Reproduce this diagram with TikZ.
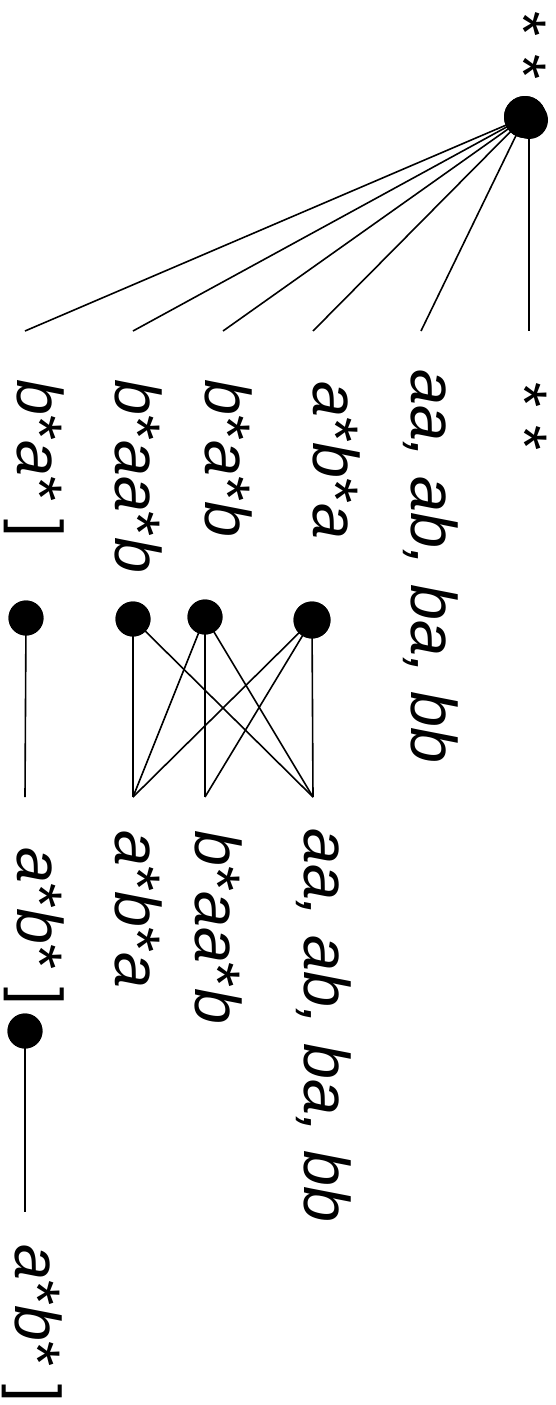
\documentclass[tikz,border=0pt]{standalone}
\usepackage{fontspec}
\setmainfont{Liberation Sans}
\newcommand{\stx}{\textup{*}}
\newcommand{\brx}{\textup{]}}
\begin{document}
\begin{tikzpicture}[x=1pt,y=-1pt,
  lbl/.style={rotate=-90,anchor=base west,inner sep=0pt,font=\fontsize{64.5}{70}\selectfont\itshape},
  dotn/.style={circle,fill=black,draw=none,inner sep=0pt,minimum size=35pt},
  edge/.style={line width=1.6pt,draw=black}]
\useasboundingbox (0,0) rectangle (556,1405);
% root
\node[lbl] (r) at (501,11) {\stx\ \stx};
\node[dotn,minimum size=42pt] (root) at (525,117) {};
% level 1 labels
\node[lbl] (a1) at (502,382) {\stx\ \stx};
\node[lbl] (a2) at (411,369) {aa, ab, ba, bb};
\node[lbl] (a3) at (313,381) {a\stx b\stx a};
\node[lbl] (a4) at (205,379) {b\stx a\stx b};
\node[lbl] (a5) at (115,379) {b\stx aa\stx b};
\node[lbl] (a6) at (17,379) {b\stx a\stx\ \brx};
% level 1 line ends
\coordinate (t1) at (529,331);
\coordinate (t2) at (421,331);
\coordinate (t3) at (313,331);
\coordinate (t4) at (223,331);
\coordinate (t5) at (133,331);
\coordinate (t6) at (25,331);
\draw[edge] (t1 |- root.center) -- (t1);
\foreach \t in {t2,t3,t4,t5,t6} \draw[edge] (root.center) -- (\t);
\node[dotn,minimum size=42pt] at (root) {};
\node[dotn,minimum size=38pt] at ([shift={(4,3)}]root.center) {};
% level 1 dots
\coordinate (e1) at (25,797);
\coordinate (e2) at (133,797);
\coordinate (e3) at (205,797);
\coordinate (e4) at (313,797);
\node[dotn] (d1) at (26,618) {};
\node[dotn] (d2) at (133,619) {};
\node[dotn] (d3) at (205,617) {};
\node[dotn,minimum size=37pt] (d4) at (312,620) {};
\draw[edge] (d1.center) -- (e1);
\draw[edge] (d2.center) -- (e2);
\draw[edge] (d2.center) -- (e4);
\draw[edge] (d3.center) -- (e2);
\draw[edge] (d3.center) -- (e3);
\draw[edge] (d3.center) -- (e4);
\draw[edge] (d4.center) -- (e2);
\draw[edge] (d4.center) -- (e3);
\draw[edge] (d4.center) -- (e4);
\foreach \d in {d1,d2,d3} \node[dotn] at (\d) {};
\node[dotn,minimum size=37pt] at (d4) {};
% level 2 labels
\node[lbl] (b1) at (304,828) {aa, ab, ba, bb};
\node[lbl] (b2) at (195,830) {b\stx aa\stx b};
\node[lbl] (b3) at (115,830) {a\stx b\stx a};
\node[lbl] (b4) at (17,847) {a\stx b\stx\ \brx};
% level 3
\node[dotn] (d5) at (25,1031) {};
\coordinate (e5) at (25,1212);
\draw[edge] (d5.center) -- (e5);
\node[dotn] at (d5) {};
\node[lbl] (c1) at (15,1244) {a\stx b\stx\ \brx};
\end{tikzpicture}
\end{document}
